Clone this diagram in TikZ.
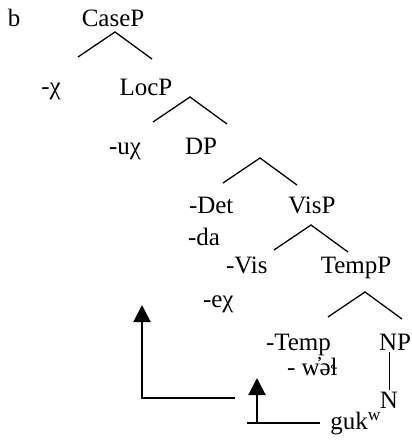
\documentclass[tikz,border=0pt]{standalone}
\usepackage{fontspec}
\setmainfont{Liberation Serif}
\usetikzlibrary{arrows.meta}
\tikzset{
	every node/.style={inner sep=0pt,outer sep=1pt,font=\fontsize{12.5}{14}\selectfont},
	lab/.style={anchor=base},
	aff/.style={anchor=base west},
	branch/.style={line width=0.65pt},
	move/.style={line width=1pt},
	head/.style={-{Triangle[width=8.5pt,length=8.5pt]}}
}

\begin{document}
\begin{tikzpicture}[x=0.5pt,y=-0.5pt]
	\useasboundingbox (0,0) rectangle (412,445);
	% Labels
	\node[lab] (b) at (14,26) {b};
	\node[lab] (casep) at (113,26) {CaseP};
	\node[lab] (chi) at (51,94) {-χ};
	\node[lab] (locp) at (146,95) {LocP};
	\node[lab] (uchi) at (125,154) {-uχ};
	\node[lab] (dp) at (201,154) {DP};
	\node[aff] (det) at (187,213) {-Det};
	\node[lab] (visp) at (312,213) {VisP};
	\node[aff] (da) at (186,245) {-da};
	\node[aff] (vis) at (224,273) {-Vis};
	\node[lab] (tempp) at (356,273) {TempP};
	\node[aff] (echi) at (201,307) {-eχ};
	\node[aff] (temp) at (264,350) {-Temp};
	\node[lab] (np) at (395,350) {NP};
	\node[aff] (wet) at (285,375) {- w̓əɬ};
	\node[lab] (n) at (389,408) {N};
	\node[lab] (guk) at (356,429) {guk\textsuperscript{w}};
	
	% Branches
	\coordinate (k1) at (115,32);
	\coordinate (k2) at (190,97);
	\coordinate (k3) at (260,158);
	\coordinate (k4) at (311,225);
	\coordinate (k5) at (365,292);
	\foreach \k in {k1,k2,k3,k4,k5}
		\draw[branch] (\k) ++(-37,25) -- (\k) -- ++(37,27);
	\draw[line width=0.5pt] (n.north) -- (n.north |- np.south);
	
	% Movement
	\coordinate (bigstart) at (235,398);
	\coordinate (bigtip) at (142,305);
	\draw[move,head] (bigstart) -| (bigtip);
	\coordinate (smallleft) at (247,423);
	\coordinate (smallend) at (320,423);
	\coordinate (smalltip) at (257,378);
	\draw[move] (smallleft) -- (smallend);
	\draw[move,head] (smalltip |- smallend) -- (smalltip);
\end{tikzpicture}
\end{document}
